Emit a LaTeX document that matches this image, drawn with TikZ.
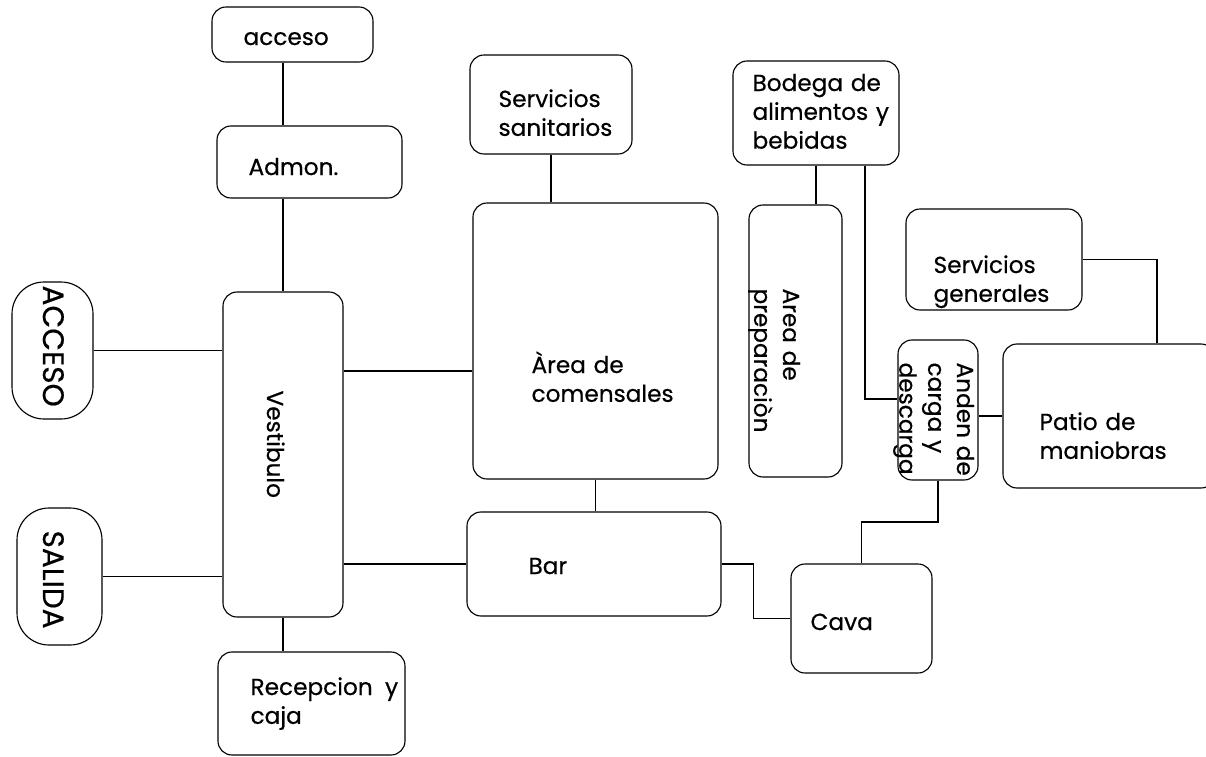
\documentclass[tikz,border=0pt]{standalone}
\usepackage{fontspec}
\setmainfont{Poppins}[FakeBold=0.5]
\usetikzlibrary{calc}

\begin{document}
\begin{tikzpicture}[x=0.025cm,y=-0.025cm,line width=0.8pt,
	size/.style 2 args={minimum width=#1*0.025cm,minimum height=#2*0.025cm},
	box/.style={draw,rounded corners=0.35cm,inner sep=0pt},
	pill/.style={box,rounded corners=0.8cm},
	txt/.style={inner sep=0pt,anchor=base west,text width=4cm,align=left,font=\fontsize{16.5}{20.5}\selectfont},
	big/.style={inner sep=0pt,anchor=base west,font=\fontsize{21}{25}\selectfont}]
		\useasboundingbox (0,0) rectangle (1206,757);
		% zonas
		\node[box,size={161}{55}] (acceso) at (292.5,34.5) {};
		\node[box,size={185}{72}] (admon) at (309.5,162) {};
		\node[box,size={120}{325}] (vest) at (283,454.5) {};
		\node[box,size={187}{103}] (recep) at (311.5,703.5) {};
		\node[pill,size={81}{137}] (acc) at (52.5,350.5) {};
		\node[pill,size={85}{137}] (salida) at (59.5,576.5) {};
		\node[box,size={162}{99}] (sanit) at (551,104.5) {};
		\node[box,size={245}{276}] (comens) at (595.5,341) {};
		\node[box,size={254}{104}] (bar) at (594,564) {};
		\node[box,size={141}{109}] (cava) at (861.5,618.5) {};
		\node[box,size={166}{104}] (bodega) at (816,113) {};
		\node[box,size={93}{272}] (prep) at (795.5,341) {};
		\node[box,size={80}{140}] (anden) at (938,410) {};
		\node[box,size={176}{101}] (servgen) at (994,259.5) {};
		\node[box,size={212}{144}] (patio) at (1109,416) {};
		% textos
		\node[txt] (t-acceso) at (243,45) {acceso};
		\node[txt] (t-admon) at (248,175) {Admon.};
		\node[txt] (t-recep) at (250,695) {Recepcion\hspace{0.2em} y\\caja};
		\node[txt] (t-sanit) at (498,107) {Servicios\\sanitarios};
		\node[txt] (t-comens) at (531,373) {Àrea de\\comensales};
		\node[txt] (t-bar) at (528,574) {Bar};
		\node[txt] (t-cava) at (810,630) {Cava};
		\node[txt] (t-bodega) at (752,91) {Bodega de\\alimentos y\\bebidas};
		\node[txt] (t-servgen) at (933,273) {Servicios\\generales};
		\node[txt] (t-patio) at (1039,430) {Patio de\\maniobras};
		\node[txt,rotate=-90] (t-vest) at (267,390) {Vestibulo};
		\node[txt,rotate=-90] (t-prep) at (783,288) {Area de\\preparaciòn};
		\node[txt,rotate=-90] (t-anden) at (957,362) {Anden de\\carga y\\descarga};
		\node[big,rotate=-90] (t-acc) at (43,285) {ACCESO};
		\node[big,rotate=-90] (t-salida) at (43,530) {SALIDA};
		% conexiones
		\draw (acceso.south -| vest.north) -- (admon.north -| vest.north);
		\draw (admon.south -| vest.north) -- (vest.north);
		\draw (vest.south) -- (vest.south |- recep.north);
		\draw (acc.east) -- (acc.east -| vest.west);
		\draw (salida.east) -- (salida.east -| vest.west);
		\draw ([yshift=-0.75cm]comens.west) -- ([yshift=-0.75cm]comens.west -| vest.east);
		\draw (bar.west) -- (bar.west -| vest.east);
		\draw (sanit.south) -- (sanit.south |- comens.north);
		\draw (comens.south) -- (comens.south |- bar.north);
		\draw (bar.east) -- ++(32,0) |- (cava.west);
		\draw (cava.north) |- ($(cava.north)!.5!(anden.south)$) -| (anden.south);
		\draw (bodega.south) -- (bodega.south |- prep.north);
		\draw ($(bodega.south)+(49,0)$) |- ([yshift=0.275cm]anden.west);
		\draw (patio.west -| anden.east) -- (patio.west);
		\draw (servgen.east) -| ($(patio.north)+(48,0)$);
\end{tikzpicture}
\end{document}
